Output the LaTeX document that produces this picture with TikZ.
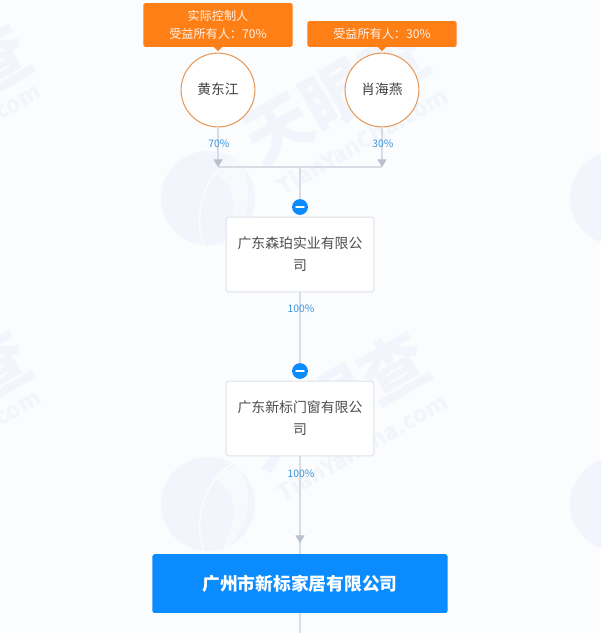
\documentclass[tikz,border=0pt]{standalone}
\usepackage{fontspec}
\setmainfont{Noto Sans CJK SC}
\usetikzlibrary{arrows.meta}
\definecolor{pagebg}{HTML}{FBFCFE}
\definecolor{markbg}{HTML}{F2F6FC}
\definecolor{marklight}{HTML}{F7FAFD}
\definecolor{tagorange}{HTML}{FF7F17}
\definecolor{ringorange}{HTML}{E59A5C}
\definecolor{linegray}{HTML}{D8DCE4}
\definecolor{tipgray}{HTML}{B9C0CD}
\definecolor{boxgray}{HTML}{DDE2E8}
\definecolor{rateblue}{HTML}{3C96DC}
\definecolor{mainblue}{HTML}{0A8CFF}
\tikzset{
	tagbox/.style={fill=tagorange,rounded corners=1pt,text=white!90!tagorange,align=center,font=\fontsize{6.9}{10.2}\selectfont,inner sep=0pt},
	person/.style={circle,draw=ringorange,fill=white,line width=0.6pt,minimum size=42pt,inner sep=0pt,text=black!75,font=\fontsize{7.8}{10}\selectfont},
	firm/.style={draw=boxgray,fill=white,rounded corners=1pt,line width=0.6pt,minimum width=84pt,minimum height=42.5pt,inner sep=0pt,align=center,text=black!70,font=\fontsize{7.9}{12.4}\selectfont},
	mainfirm/.style={fill=mainblue,rounded corners=1pt,minimum width=168pt,minimum height=33.5pt,inner sep=0pt,text=white,font=\fontsize{10.1}{12}\selectfont\bfseries},
	rate/.style={text=rateblue,inner sep=1pt,font=\fontsize{5.9}{7}\selectfont},
	toggle/.style={circle,fill=mainblue,minimum size=9pt,inner sep=0pt},
	togglebar/.style={draw=white,line width=1pt,line cap=round},
	link/.style={draw=linegray,line width=0.7pt},
	tiplink/.style={link,-{Triangle[width=5.2pt,length=4.4pt,color=tipgray]}},
	markname/.style={text=markbg,rotate=30,inner sep=0pt,font=\fontsize{38}{40}\selectfont\bfseries},
	markurl/.style={text=markbg,rotate=30,inner sep=0pt,font=\fontsize{13}{14}\selectfont\bfseries}
}
\begin{document}
\begin{tikzpicture}[x=0.02cm,y=-0.02cm]
	\fill[pagebg] (0,0) rectangle (600,633);
	\useasboundingbox (0,0) rectangle (600,633);
	
	% watermark
	\foreach \dx/\dy in {0/0,0/306,409/0,409/306}{
		\begin{scope}[shift={(\dx,\dy)}]
			\fill[markbg] (208,198) circle (47);
			\fill[marklight] (238,160) .. controls (256,185) and (250,225) .. (222,245) .. controls (238,215) and (238,185) .. (214,172) .. controls (222,165) and (230,162) .. (238,160) -- cycle;
			\draw[pagebg,line width=0.8pt] (236,156) .. controls (205,170) and (192,215) .. (204,245);
		\end{scope}
	}
	\foreach \dy in {0,306}{
		\node[markname] (markmain\dy) at (336,95+\dy) {天眼查};
		\node[markurl] (markurl\dy) at (362,141+\dy) {TianYanCha.com};
		\node[markname] (markleft\dy) at (-5,60+\dy) {查};
		\node[markurl] (markend\dy) at (15,105+\dy) {.com};
	}
	
	% links
	\coordinate (busleft) at (218,167);
	\coordinate (busright) at (382,167);
	\coordinate (busmid) at (300,167);
	\coordinate (hometip) at (300,543);
	\coordinate (bottomend) at (300,633);
	\node[person] (huang) at (218,90) {\raisebox{1pt}{黄东江}};
	\node[person] (xiao) at (382,90) {\raisebox{1pt}{肖海燕}};
	\node[firm] (senpo) at (300,254.5) {广东森珀实业有限公\\司};
	\node[firm] (xinbiao) at (300,418.5) {广东新标门窗有限公\\司};
	\node[mainfirm] (home) at (300,583.5) {\raisebox{0.8pt}{广州市新标家居有限公司}};
	\node[toggle] (togglea) at (300,207) {};
	\node[toggle] (toggleb) at (300,371) {};
	
	\draw[tiplink] (huang) -- (busleft);
	\draw[tiplink] (xiao) -- (busright);
	\draw[link] (busleft) -- (busright);
	\draw[link] (busmid) -- (togglea);
	\draw[link] (senpo) -- (toggleb);
	\draw[link] (xinbiao) -- (home);
	\draw[tiplink] (xinbiao) -- (hometip);
	\draw[link] (home) -- (bottomend);
	
	\draw[togglebar] ([xshift=-2.2pt]togglea.center) -- ([xshift=2.2pt]togglea.center);
	\draw[togglebar] ([xshift=-2.2pt]toggleb.center) -- ([xshift=2.2pt]toggleb.center);
	
	% tags
	\fill[tagorange] (214,47) -- (222,47) -- (218,51) -- cycle;
	\fill[tagorange] (378,47) -- (386,47) -- (382,51) -- cycle;
	\node[tagbox,minimum width=85pt,minimum height=25pt] (tagh) at (218,25) {实际控制人\\受益所有人：70\%};
	\node[tagbox,minimum width=85pt,minimum height=14.7pt] (tagx) at (382,34) {受益所有人：30\%};
	
	% rates
	\node[rate] (ratea) at (219,144) {70\%};
	\node[rate] (rateb) at (383,144) {30\%};
	\node[rate] (ratec) at (301,309) {100\%};
	\node[rate] (rated) at (301,474) {100\%};
\end{tikzpicture}
\end{document}
